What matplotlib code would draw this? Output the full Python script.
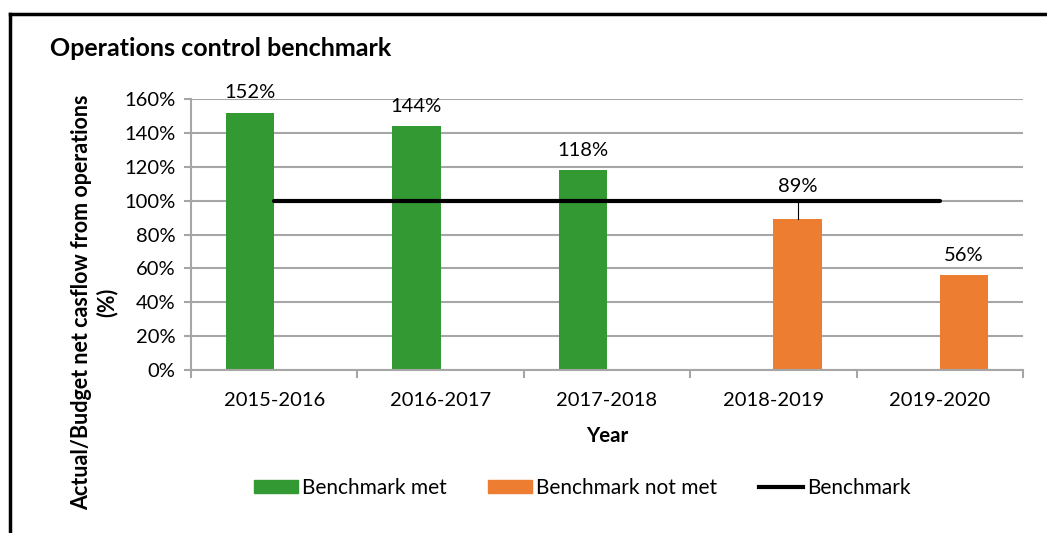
import matplotlib
matplotlib.use("Agg")
import matplotlib.pyplot as plt
from matplotlib.lines import Line2D
from matplotlib.patches import Patch
import numpy as np

plt.rcParams['font.family'] = ['Lato', 'DejaVu Sans']

categories = ["2015-2016", "2016-2017", "2017-2018", "2018-2019", "2019-2020"]
met = [152, 144, 118, np.nan, np.nan]
not_met = [np.nan, np.nan, np.nan, 89, 56]
benchmark = [100, 100, 100, 100, 100]
labels = ["152%", "144%", "118%", "89%", "56%"]
yticks = [0, 20, 40, 60, 80, 100, 120, 140, 160]

GREEN = '#339933'
ORANGE = '#ED7D31'
GRID = '#A6A6A6'
FS = 14.5

fig = plt.figure(figsize=(10.47, 5.33), dpi=100)
ax = fig.add_axes([191/1047, 1-370/533, (1023-191)/1047, (370-99)/533])

x = np.arange(len(categories))
w = 0.29
ax.bar(x - w/2, met, width=w, color=GREEN, zorder=2)
ax.bar(x + w/2, not_met, width=w, color=ORANGE, zorder=2)
ax.plot(x, benchmark, color='black', lw=3, solid_capstyle='round', zorder=3)

# data labels
for i in range(len(categories)):
    v = met[i] if not np.isnan(met[i]) else not_met[i]
    xc = x[i] - w/2 if not np.isnan(met[i]) else x[i] + w/2
    if benchmark[i] - 20 < v < benchmark[i]:
        ax.plot([xc, xc], [v, benchmark[i]], color='black', lw=0.8, zorder=3)
        ax.annotate(labels[i], (xc, benchmark[i]), xytext=(0, 4), textcoords='offset points',
                    ha='center', va='bottom', fontsize=FS)
    else:
        ax.annotate(labels[i], (xc, v), xytext=(0, 8), textcoords='offset points',
                    ha='center', va='bottom', fontsize=FS)

ax.set_xlim(-0.5, len(categories) - 0.5)
ax.set_ylim(0, 160)
ax.set_yticks(yticks)
ax.set_yticklabels([f"{t}%" for t in yticks], fontsize=FS)
ax.yaxis.grid(True, color=GRID, lw=1.5, zorder=0)
ax.set_axisbelow(True)

ax.set_xticks(np.arange(len(categories) + 1) - 0.5)
ax.set_xticklabels([])
ax.set_xticks(x, minor=True)
ax.set_xticklabels(categories, minor=True, fontsize=FS)
ax.tick_params(axis='x', which='minor', length=0, pad=16)
ax.tick_params(axis='x', which='major', length=6, color=GRID, width=1.5)
ax.tick_params(axis='y', length=5, color=GRID, width=1.5, pad=6)

for s in ['top', 'right']:
    ax.spines[s].set_visible(False)
for s in ['left', 'bottom']:
    ax.spines[s].set_color(GRID)
    ax.spines[s].set_linewidth(1.5)

ax.set_xlabel("Year", fontsize=14.8, fontweight='bold', labelpad=12)

fig.text(50/1047, 1-49/533, "Operations control benchmark", fontsize=18, fontweight='bold',
         ha='left', va='center')
fig.text(94/1047, 1-302/533, "Actual/Budget net casflow from operations\n(%)", fontsize=15.5,
         fontweight='bold', rotation=90, ha='center', va='center', multialignment='center',
         linespacing=1.2)

handles = [Patch(color=GREEN, label="Benchmark met"),
           Patch(color=ORANGE, label="Benchmark not met"),
           Line2D([0], [0], color='black', lw=3, label="Benchmark")]
fig.legend(handles=handles, loc='center', bbox_to_anchor=(582/1047, 1-488/533), ncol=3,
           frameon=False, fontsize=15, handlelength=2.1, handleheight=0.6,
           handletextpad=0.2, columnspacing=2.0)

# outer frame
fig.add_artist(Line2D([10/1047, 1.01], [1-14/533, 1-14/533], color='black', lw=2.5,
                      transform=fig.transFigure))
fig.add_artist(Line2D([10/1047, 10/1047], [1-14/533, -0.01], color='black', lw=2.5,
                      transform=fig.transFigure))

fig.savefig("out.png", dpi=100)
